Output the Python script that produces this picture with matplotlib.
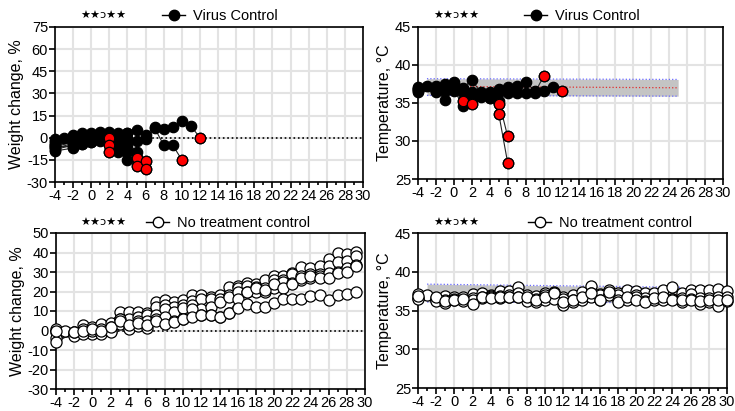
import numpy as np
import matplotlib.pyplot as plt
from matplotlib.lines import Line2D

plt.rcParams['font.family'] = ['Liberation Sans', 'DejaVu Sans']
plt.rcParams['axes.unicode_minus'] = False

nan = np.nan

### VIRUS CONTROL: DAYS -4..12
days_vc = list(range(-4, 13))
weight_vc = [
    [-2, nan, 1, 2, 2, 3, 0],
    [-4, nan, -1, 0, 1, 1, -5],
    [-6, nan, -3, -2, -1, -1, -10],
    [-1, 0, 2, 3, 3, 4, 4, 3, 3, 5, 2, 7, 6, 7, 11, 8, 0],
    [-3, nan, 0, 1, 2, 2, 2, 1, 0, -2, -1, 6.5, -5, -5, -15],
    [-5, nan, -2, -1, 0, 1, 1, -1, -2, -10, -16],
    [-7, nan, -4, -3, -2, 0, -1, -5, -10, -14, -21],
    [-8, nan, -5, -4, -3, -1, -2, -7, -8, -14],
    [-9, nan, -7, -4, -3, -2, -3, -10, -15, -19],
    [-6, nan, -6, -3, -2, -1, -3, -8, -5],
    [-5, nan, -3, -2, -1, 0, 0, -3, 3],
]
weight_vc_red_days = [2, 2, 2, 5, 5, 6, 6, 10, 12]
weight_vc_red = [0, -5, -10, -14, -19, -16, -21, -15, 0]

temp_vc = [
    [37.1, nan, 37.3, 37.5, 37.7, 37.0, 38.0, 36.4, 36.5, 36.9, 37.1, 37.3, 37.8, 36.6, 36.6, 37.1, 36.6],
    [36.7, 37.2, 36.6, 37.0, 37.3, 36.4, 36.5, 35.9, 36.0, 36.4, 36.3, 36.3, 36.3, 36.3, 38.5],
    [36.9, nan, 37.0, 36.6, 36.6, 35.3],
    [36.6, nan, 36.8, 35.4, 36.8, 34.6, 34.9],
    [37.0, nan, 36.9, 37.2, 37.5, 36.8, 36.0, 36.2, 35.6, 35.3, 30.6],
    [36.8, nan, 36.6, 36.9, 37.0, 36.9, 35.5, 35.9, 36.0, 33.6, 27.1],
    [36.5, nan, 36.5, 36.7, 36.9, 36.6, 36.2, 35.8, 35.6, 34.9],
]
temp_vc_red_days = [1, 2, 5, 5, 6, 6, 10, 12]
temp_vc_red = [35.3, 34.9, 34.9, 33.6, 30.6, 27.1, 38.5, 36.6]

### NO TREATMENT CONTROL: DAYS -4..30
days_nt = list(range(-4, 31))
weight_nt = [
    [1, nan, -1, 3, 2, 3.5, 4, 9.5, 9.5, 9.5, 9, 14.5, 15.5, 14.5, 15.5, 18, 18, 17, 18, 22.5,
     23, 24.5, 24, 26, 28, 28, 29.5, 32.5, 32, 33, 36.5, 39.5, 39, 40.5],
    [-1, 0, -2, 1, 0, 1, 2, 6, 6, 7, 8, 12, 13, 12, 13, 15, 16, 16, 16, 18,
     22, 23, 22.5, 22, 26, 26, 29, 28, 29, 29, 33, 35, 35.5, 38],
    [-4, nan, -3, -1, -2, -1, 0, 3.5, 2.5, 5, 5, 8, 11, 9.5, 11.5, 13, 11, 12, 14.5, 17,
     20, 20, 20, 20, 22, 25, 24.5, 26, 27, 28, 29.5, 30, 32, 33.5],
    [-6, nan, -1, -2, 0, -2, -1, 6, 1, 2.5, 1.5, 6, 7, 5, 6, 11, 8, 8, 7, 9,
     16, 19.5, 22, 21, 24, 22, 24, 27, 28, 27, 27, 29.5, 30, 33],
    [0, nan, -1, 0, 1, 0, 2, 5, 3, 4, 3, 5, 3.5, 4.5, 6, 7, 8, 8, 7, 9,
     11.5, 13.5, 12, 12, 14, 16, 16, 16, 17.5, 18, 15.5, 18, 18.5, 20],
]
temp_nt = [
    [37.1, 37.0, 36.6, 36.9, 36.7, 36.8, 37.1, 37.2, 37.0, 37.5, 37.5, 38.0, 37.0, 36.9, 37.3, 37.4,
     36.8, 37.0, 37.4, 38.2, 37.1, 37.7, 37.2, 37.7, 37.5, 37.3, 37.2, 37.6, 38.0, 37.3, 37.6, 37.7,
     37.7, 37.8, 37.5],
    [36.6, nan, 36.4, 36.3, 36.5, 36.4, 36.6, 36.8, 36.9, 36.9, 37.0, 37.3, 36.5, 36.5, 37.0, 37.3,
     36.5, 36.4, 36.6, 37.3, 37.0, 37.1, 37.0, 36.5, 37.0, 36.6, 36.5, 36.6, 36.5, 36.6, 37.1, 36.6,
     36.6, 36.8, 36.8],
    [36.5, nan, 36.2, 36.0, 36.3, 36.2, 36.3, 36.6, 36.7, 36.6, 36.8, 36.8, 36.2, 36.1, 36.4, 36.5,
     35.7, 36.1, 36.4, 36.8, 36.4, 37.0, 36.3, 36.3, 36.7, 36.2, 36.4, 36.3, 36.5, 36.1, 36.5, 35.9,
     36.1, 35.6, 36.2],
    [36.9, nan, 36.7, 36.2, 36.3, 36.5, 35.9, 36.7, 36.6, 36.7, 36.7, 36.7, 36.7, 36.3, 36.7, 37.2,
     36.1, 36.3, 36.7, 37.2, 36.4, 37.4, 36.1, 36.8, 36.3, 36.1, 36.6, 36.7, 36.4, 36.3, 36.4, 36.2,
     36.3, 36.3, 36.4],
]

### NORMAL TEMPERATURE BAND
band_x = [-3, 25]
band_vc_lo = [36.0, 35.9]
band_vc_hi = [38.2, 38.1]
band_vc_mid = [37.2, 37.0]
band_nt_lo = [36.1, 36.0]
band_nt_hi = [38.4, 38.0]
band_nt_mid = [37.2, 37.0]

stars = "★★ɔ★★"

fig = plt.figure(figsize=(7.35, 4.11), dpi=100)
W, H = 735, 411


def make_ax(l, t, r, b):
    return fig.add_axes([l / W, 1 - b / H, (r - l) / W, (b - t) / H])


ax1 = make_ax(55, 27, 363, 182)
ax2 = make_ax(418, 27, 723, 179)
ax3 = make_ax(56, 233, 365, 389)
ax4 = make_ax(418, 233, 727, 388)


def style(ax, ylim, yticks, ylabel):
    ax.set_xlim(-4, 30)
    ax.set_ylim(*ylim)
    ax.set_xticks(range(-4, 31, 2))
    ax.set_xticks(range(-3, 30, 2), minor=True)
    ax.set_yticks(yticks)
    ax.grid(True, which='major', color='#e3e3e3', lw=1.5, zorder=0)
    ax.set_axisbelow(True)
    for s in ax.spines.values():
        s.set_color('black')
        s.set_linewidth(1.2)
    ax.tick_params(which='major', length=4, width=1.2, labelsize=10.5, pad=1)
    ax.tick_params(which='minor', length=2.5, width=1.2)
    ax.set_ylabel(ylabel, fontsize=11.5, labelpad=2)


def traces(ax, days, mice, fc, ms):
    for m in mice:
        d = np.array(days[:len(m)], float)
        v = np.array(m, float)
        ok = ~np.isnan(v)
        ax.plot(d[ok], v[ok], color='#222222', lw=0.8, zorder=2, clip_on=False)
    for m in mice:
        d = np.array(days[:len(m)], float)
        v = np.array(m, float)
        ok = ~np.isnan(v)
        ax.plot(d[ok], v[ok], ls='none', marker='o', ms=ms, mfc=fc, mec='black',
                mew=0.9, zorder=3, clip_on=False)


def band(ax, lo, hi, mid):
    ax.fill_between(band_x, lo, hi, color='#c4c4c4', lw=0, zorder=1)
    ax.plot(band_x, lo, ls=':', color='#6a6aff', lw=0.9, zorder=1)
    ax.plot(band_x, hi, ls=':', color='#6a6aff', lw=0.9, zorder=1)
    ax.plot(band_x, mid, ls=':', color='#e03030', lw=0.9, zorder=1)


def header(ax, sx, lx, y, label, fc):
    fig.text(sx / W, 1 - y / H, stars, fontsize=8, va='center', family=['DejaVu Sans'])
    h = Line2D([0], [0], color='black', lw=1, marker='o', ms=7.5, mfc=fc, mec='black')
    ax.legend(handles=[h], labels=[label], loc='center left', bbox_to_anchor=(lx / W, 1 - y / H),
              bbox_transform=fig.transFigure, frameon=False, fontsize=10.5,
              handlelength=1.6, handletextpad=0.5, borderpad=0, borderaxespad=0)


### PANEL 1: WEIGHT, VIRUS CONTROL
style(ax1, (-30, 75), range(-30, 76, 15), 'Weight change, %')
ax1.axhline(0, ls=':', color='black', lw=1.2, zorder=1)
traces(ax1, days_vc, weight_vc, 'black', 7.5)
ax1.plot(weight_vc_red_days, weight_vc_red, ls='none', marker='o', ms=7.5, mfc='#ff0000',
         mec='black', mew=0.9, zorder=4, clip_on=False)
header(ax1, 80, 162, 16, 'Virus Control', 'black')

### PANEL 2: TEMPERATURE, VIRUS CONTROL
style(ax2, (25, 45), range(25, 46, 5), 'Temperature, °C')
band(ax2, band_vc_lo, band_vc_hi, band_vc_mid)
traces(ax2, days_vc, temp_vc, 'black', 7.5)
ax2.plot(temp_vc_red_days, temp_vc_red, ls='none', marker='o', ms=7.5, mfc='#ff0000',
         mec='black', mew=0.9, zorder=4, clip_on=False)
header(ax2, 433, 524, 16, 'Virus Control', 'black')

### PANEL 3: WEIGHT, NO TREATMENT
style(ax3, (-30, 50), range(-30, 51, 10), 'Weight change, %')
ax3.axhline(0, ls=':', color='black', lw=1.2, zorder=1)
traces(ax3, days_nt, weight_nt, 'white', 8)
header(ax3, 80, 146, 223, 'No treatment control', 'white')

### PANEL 4: TEMPERATURE, NO TREATMENT
style(ax4, (25, 45), range(25, 46, 5), 'Temperature, °C')
band(ax4, band_nt_lo, band_nt_hi, band_nt_mid)
traces(ax4, days_nt, temp_nt, 'white', 8)
header(ax4, 433, 528, 223, 'No treatment control', 'white')

fig.savefig('out.png', dpi=100)
